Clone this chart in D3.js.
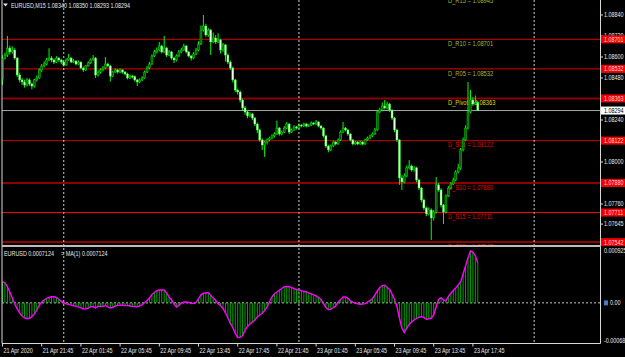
<!DOCTYPE html>
<html>
<head>
<meta charset="utf-8">
<script src="https://cdn.jsdelivr.net/npm/d3@7"></script>
<style>
    body { margin: 0; background: #000; }
    svg { display: block; }
    text { font-family: "Liberation Sans", Arial, sans-serif; font-size: 6.6px; }
</style>
</head>
<body>
<svg id="drawing_region"></svg>
<script>
// EURUSD M15, prices written as points (0.00001) above 1.07000
const BASE = 1.07;
const firstOpen = 1470;
const closes = [
    1594,1611,1651,1629,1640,1594,1497,1469,1457,1440,
    1469,1446,1434,1469,1480,1526,1549,1560,1583,1594,
    1583,1571,1594,1583,1571,1554,1583,1594,1571,1577,
    1560,1571,1537,1526,1549,1566,1583,1594,1497,1514,
    1526,1537,1560,1549,1491,1514,1526,1514,1526,1514,
    1503,1480,1491,1488,1469,1457,1469,1480,1514,1537,
    1560,1606,1629,1640,1663,1629,1651,1611,1629,1594,
    1583,1606,1629,1640,1663,1629,1606,1594,1617,1640,
    1674,1754,1777,1726,1754,1686,1709,1686,1697,1640,
    1669,1611,1571,1537,1469,1411,1400,1354,1309,1286,
    1263,1274,1251,1217,1183,1126,1097,1114,1126,1137,
    1149,1160,1194,1160,1171,1194,1217,1171,1183,1200,
    1194,1211,1206,1217,1206,1211,1223,1217,1229,1206,
    1194,1149,1091,1069,1091,1114,1103,1126,1171,1194,
    1183,1160,1126,1103,1114,1103,1114,1103,1126,1137,
    1149,1160,1183,1286,1297,1320,1309,1331,1297,1251,
    1183,1126,909,886,920,966,977,954,966,897,
    851,783,737,703,726,680,714,869,840,754,
    714,806,851,874,897,943,966,1069,1126,1194,
    1286,1354,1331,1340,1294
];
const highs = [
    1610,1625,1720,1665,1660,1650,1600,1510,1480,1470,
    1480,1478,1455,1475,1495,1535,1560,1575,1595,1650,
    1605,1592,1605,1600,1590,1580,1592,1617,1600,1588,
    1582,1580,1575,1545,1555,1575,1592,1611,1600,1525,
    1535,1548,1600,1568,1555,1522,1535,1532,1534,1530,
    1520,1510,1500,1498,1494,1475,1478,1490,1522,1548,
    1572,1615,1640,1655,1686,1670,1720,1658,1640,1635,
    1600,1615,1640,1652,1675,1668,1635,1612,1628,1652,
    1690,1780,1840,1790,1765,1760,1740,1725,1735,1705,
    1680,1675,1620,1580,1545,1475,1420,1408,1362,1320,
    1295,1285,1280,1258,1225,1190,1135,1122,1135,1145,
    1158,1170,1237,1200,1180,1205,1228,1222,1192,1210,
    1206,1220,1216,1225,1222,1218,1232,1228,1240,1232,
    1210,1198,1155,1098,1100,1122,1120,1135,1180,1229,
    1200,1188,1165,1130,1122,1120,1122,1118,1132,1145,
    1156,1168,1195,1295,1310,1340,1354,1345,1338,1300,
    1258,1190,1130,925,935,980,1011,985,978,972,
    905,858,790,745,740,735,725,914,880,850,
    760,815,862,885,910,954,990,1080,1140,1210,
    1457,1411,1370,1380,1350
];
const lows = [
    1440,1585,1600,1615,1620,1585,1485,1455,1440,1425,
    1432,1435,1415,1425,1460,1475,1515,1540,1552,1575,
    1570,1560,1565,1572,1560,1545,1550,1578,1565,1565,
    1552,1555,1530,1515,1520,1545,1560,1578,1480,1488,
    1505,1518,1530,1540,1460,1485,1508,1505,1508,1505,
    1495,1472,1475,1478,1460,1434,1450,1462,1475,1508,
    1530,1555,1600,1620,1632,1620,1622,1600,1605,1585,
    1565,1575,1600,1620,1635,1620,1598,1580,1588,1610,
    1632,1668,1745,1715,1715,1611,1680,1675,1680,1620,
    1630,1575,1560,1525,1455,1400,1385,1340,1295,1270,
    1250,1255,1240,1205,1165,1115,1069,1029,1100,1118,
    1130,1140,1155,1150,1152,1165,1188,1160,1165,1178,
    1186,1190,1198,1200,1198,1200,1205,1210,1212,1198,
    1185,1140,1080,1055,1062,1085,1095,1098,1120,1165,
    1175,1150,1118,1095,1098,1096,1098,1095,1098,1120,
    1130,1142,1155,1178,1278,1290,1300,1300,1285,1240,
    1170,1115,869,840,878,912,958,945,945,885,
    840,770,725,690,695,554,665,705,830,740,
    646,705,800,845,868,890,935,955,1060,1120,
    1185,1278,1320,1325,1293
];
// indicator values, in units of 0.00001
const osc = [
    37.8,36.0,28.4,19.4,8.7,-2.0,-10.9,-18.0,-23.4,-26.9,
    -28.2,-27.5,-24.6,-19.8,-12.7,-4.6,1.6,5.2,8.2,9.6,
    10.9,11.1,9.6,6.1,3.0,0.2,-1.6,-2.7,-4.1,-5.2,
    -5.9,-7.0,-9.1,-10.9,-10.5,-9.5,-6.4,-7.0,-9.1,-5.9,
    -6.4,-6.1,-4.6,-7.3,-9.1,-8.2,-5.5,-4.5,-4.3,-4.3,
    -4.6,-5.0,-5.5,-6.1,-6.4,-6.8,-5.5,-3.4,0.7,4.3,
    8.7,15.0,18.5,21.6,23.0,23.0,22.6,17.7,10.5,5.7,
    -2.0,-7.3,-4.6,-0.2,1.2,1.6,0.7,-1.1,-0.7,0.7,
    7.0,14.4,17.1,17.7,18.2,13.2,8.7,4.6,-1.4,-5.0,
    -10.0,-17.7,-26.9,-36.7,-43.9,-54.6,-61.7,-61.3,-58.1,-48.7,
    -42.1,-37.6,-34.4,-30.5,-25.1,-21.6,-18.5,-13.6,-7.0,2.5,
    10.5,16.2,19.4,22.5,25.7,28.7,29.2,28.7,27.5,25.3,
    23.9,23.0,21.6,20.5,19.4,17.7,15.9,14.1,12.3,10.0,
    6.1,-1.1,-8.2,-12.1,-11.2,-8.7,-5.5,1.6,6.1,10.5,
    10.5,8.7,3.4,1.2,-0.2,-1.6,-2.5,-2.0,-1.4,1.6,
    4.6,7.0,14.1,21.2,27.5,30.5,31.4,27.5,23.9,15.9,
    6.1,-6.8,-26.9,-44.8,-52.8,-44.8,-38.5,-34.1,-30.5,-27.8,
    -26.0,-24.6,-26.0,-29.2,-28.4,-27.5,-21.6,-7.3,6.1,9.3,
    5.2,3.7,11.4,16.8,22.1,26.6,31.9,37.3,51.5,65.8,
    80.1,92.5,90.5,84.0,71.24
];

const startTime = new Date(2020, 3, 21, 17, 45);
const timeLabels = ["21 Apr 2020", "21 Apr 21:45", "22 Apr 01:45", "22 Apr 05:45", "22 Apr 09:45",
    "22 Apr 13:45", "22 Apr 17:45", "22 Apr 21:45", "23 Apr 01:45", "23 Apr 05:45",
    "23 Apr 09:45", "23 Apr 13:45", "23 Apr 17:45"];
const daySeparators = [new Date(2020, 3, 22), new Date(2020, 3, 23), new Date(2020, 3, 24)];
const priceTicks = [1.08840, 1.08720, 1.08600, 1.08480, 1.08360, 1.08240, 1.08120, 1.08000, 1.07880, 1.07760, 1.07645];
const levelNames = ["D_R15", "D_R10", "D_R05", "D_Pivot", "D_S05", "D_S10", "D_S15", "D_S20"];
const levelValues = [1.08945, 1.08701, 1.08532, 1.08363, 1.08122, 1.07880, 1.07711, 1.07542];
const currentPrice = 1.08294;
const oscTicks = [0.000925, 0, -0.00068];
const titleText = "EURUSD,M15  1.08340 1.08350 1.08293 1.08294";
const oscTitle = "EURUSD 0.0007124";
const maTitle = "MA(1) 0.0007124";

// squeeze text horizontally, the terminal font is narrower than Arial
function narrow(sel, k) {
    sel.each(function () {
        const w = this.getComputedTextLength();
        d3.select(this)
            .attr('textLength', w * (k || 0.82))
            .attr('lengthAdjust', 'spacingAndGlyphs');
    });
}

class MtChart {
    constructor(config) {
        this.config = config;
        this.init();
    }

    init() {
        let self = this;
        self.svg = d3.select(self.config.parent)
            .attr('width', self.config.width)
            .attr('height', self.config.height);

        self.svg.append('rect')
            .attr('width', self.config.width).attr('height', self.config.height)
            .attr('fill', '#000');

        self.x = d3.scaleLinear().domain([0, closes.length - 1]).range([2.5, 477.8]);
        self.y = d3.scaleLinear().domain([1.07645, 1.08840]).range([224.1, 15]);
        self.yOsc = d3.scaleLinear().domain([-0.00068, 0.000925]).range([341, 251]);

        self.svg.append('clipPath').attr('id', 'mainClip')
            .append('rect').attr('x', 2).attr('y', 0).attr('width', 598).attr('height', 245);
    }

    render() {
        let self = this;
        const c = self.config;
        const price = v => BASE + v / 1e5;
        const barOf = t => (t - startTime) / (15 * 60 * 1000);

        const main = self.svg.append('g').attr('clip-path', 'url(#mainClip)');

        // pivot levels
        const lineColor = { D_R15: '#d00000', D_R10: '#d40000', D_R05: '#e00000', D_Pivot: '#8c0000',
            D_S05: '#c80000', D_S10: '#8c0000', D_S15: '#ff0000', D_S20: '#8c0000' };
        const lineWidth = { D_Pivot: 2, D_S10: 2, D_S20: 2 };
        const textColor = name => name.startsWith('D_R') ? '#a4b832' : (name === 'D_Pivot' ? '#dede00' : '#e80000');

        main.selectAll('line.level')
            .data(levelNames)
            .enter()
            .append('line')
            .attr('x1', c.left).attr('x2', c.right)
            .attr('y1', (d, i) => self.y(levelValues[i]))
            .attr('y2', (d, i) => self.y(levelValues[i]))
            .attr('stroke', d => lineColor[d])
            .attr('stroke-width', d => lineWidth[d] || 1);

        main.append('line')
            .attr('x1', c.left).attr('x2', c.right)
            .attr('y1', self.y(currentPrice)).attr('y2', self.y(currentPrice))
            .attr('stroke', '#a8a8a8').attr('stroke-width', 1);

        main.selectAll('text.level')
            .data(levelNames)
            .enter()
            .append('text')
            .attr('x', 448)
            .attr('y', (d, i) => self.y(levelValues[i]) + 6.8)
            .attr('fill', d => textColor(d))
            .style('font-size', '7px')
            .text((d, i) => `${d} = ${levelValues[i].toFixed(5)}`);

        // day separators
        self.svg.selectAll('line.sep')
            .data(daySeparators)
            .enter()
            .append('line')
            .attr('x1', d => self.x(barOf(d))).attr('x2', d => self.x(barOf(d)))
            .attr('y1', 0).attr('y2', 343)
            .attr('stroke', '#d0d0d0')
            .attr('stroke-dasharray', '2,2');

        // candles
        const bars = closes.map((cl, i) => ({
            i: i,
            o: price(i ? closes[i - 1] : firstOpen),
            h: price(highs[i]),
            l: price(lows[i]),
            c: price(cl)
        }));

        main.selectAll('line.wick')
            .data(bars)
            .enter()
            .append('line')
            .attr('x1', d => self.x(d.i)).attr('x2', d => self.x(d.i))
            .attr('y1', d => self.y(d.h)).attr('y2', d => self.y(d.l))
            .attr('stroke', '#00ff00').attr('stroke-width', 1);

        main.selectAll('rect.body')
            .data(bars)
            .enter()
            .append('rect')
            .attr('x', d => self.x(d.i) - 1)
            .attr('width', 2)
            .attr('y', d => self.y(Math.max(d.o, d.c)))
            .attr('height', d => Math.max(1, Math.abs(self.y(d.o) - self.y(d.c))))
            .attr('fill', d => d.c >= d.o ? '#0b5a0b' : '#e4ffe4')
            .attr('stroke', '#00ff00')
            .attr('stroke-width', 0.4);

        // indicator: histogram + line
        const zeroY = self.yOsc(0);
        self.svg.append('line')
            .attr('x1', c.left).attr('x2', c.right)
            .attr('y1', zeroY).attr('y2', zeroY)
            .attr('stroke', '#c8c8c8').attr('stroke-dasharray', '2,2');

        self.svg.selectAll('line.hist')
            .data(osc)
            .enter()
            .append('line')
            .attr('x1', (d, i) => self.x(i)).attr('x2', (d, i) => self.x(i))
            .attr('y1', zeroY)
            .attr('y2', d => self.yOsc(d / 1e5))
            .attr('stroke', '#00a000').attr('stroke-width', 1);

        const line = d3.line()
            .x((d, i) => self.x(i))
            .y(d => self.yOsc(d / 1e5));

        self.svg.append('path')
            .datum(osc)
            .attr('d', line)
            .attr('fill', 'none')
            .attr('stroke', '#ff00ff')
            .attr('stroke-width', 1.4);

        // frame
        const frame = self.svg.append('g').attr('stroke', '#d8d8d8').attr('fill', 'none');
        frame.append('line').attr('x1', 2).attr('x2', 2).attr('y1', 0).attr('y2', 343.5);
        frame.append('line').attr('x1', 600.5).attr('x2', 600.5).attr('y1', 0).attr('y2', 343.5);
        frame.append('line').attr('x1', 2).attr('x2', 600.5).attr('y1', 343.5).attr('y2', 343.5);
        frame.append('line').attr('x1', 2).attr('x2', 600.5).attr('y1', 246).attr('y2', 246)
            .attr('stroke', '#bcbcbc').attr('stroke-width', 2);

        // titles
        self.svg.append('path').attr('d', 'M3,3.5 L8,3.5 L5.5,6.5 Z').attr('fill', '#e0e0e0');
        self.svg.append('text').attr('x', 11).attr('y', 8).attr('fill', '#e8e8e8').text(titleText);
        self.svg.append('text').attr('x', 4).attr('y', 256).attr('fill', '#e8e8e8').text(oscTitle);
        self.svg.append('text').attr('x', 61).attr('y', 256).attr('fill', '#e8e8e8').text('= ' + maTitle);

        // right price axis
        const axis = self.svg.append('g');
        axis.selectAll('line.ptick')
            .data(priceTicks)
            .enter()
            .append('line')
            .attr('x1', 600.5).attr('x2', 603)
            .attr('y1', d => self.y(d)).attr('y2', d => self.y(d))
            .attr('stroke', '#d8d8d8');
        axis.selectAll('text.ptick')
            .data(priceTicks)
            .enter()
            .append('text')
            .attr('x', 604).attr('y', d => self.y(d) + 2.3)
            .attr('fill', '#e8e8e8')
            .text(d => d.toFixed(5));

        const boxes = levelValues.slice(1).map(v => ({ v: v, fill: '#f00000', color: '#ffd8d8' }));
        boxes.push({ v: currentPrice, fill: '#ffffff', color: '#000000' });
        const box = axis.selectAll('g.box')
            .data(boxes)
            .enter()
            .append('g')
            .attr('transform', d => `translate(601, ${self.y(d.v)})`);
        box.append('rect')
            .attr('x', 0).attr('y', -4).attr('width', 24).attr('height', 8)
            .attr('fill', d => d.fill);
        box.append('text')
            .attr('x', 3).attr('y', 2.4)
            .attr('fill', d => d.color)
            .text(d => d.v.toFixed(5));

        // indicator axis
        axis.selectAll('text.otick')
            .data(oscTicks)
            .enter()
            .append('text')
            .attr('x', d => d === 0 ? 610 : 604)
            .attr('y', d => self.yOsc(d) + 2.3)
            .attr('fill', '#e8e8e8')
            .text(d => d === 0 ? '0.00' : (d > 0 ? d.toFixed(6) : d.toFixed(5)));
        axis.append('rect').attr('x', 604).attr('y', zeroY - 2.5).attr('width', 4).attr('height', 5)
            .attr('fill', '#4a78c8');

        // time axis
        const tg = self.svg.selectAll('g.time')
            .data(timeLabels)
            .enter()
            .append('g')
            .attr('transform', (d, i) => `translate(${self.x(i * 16)}, 343.5)`);
        tg.append('line').attr('x1', 0).attr('x2', 0).attr('y1', 0).attr('y2', 3).attr('stroke', '#d8d8d8');
        tg.append('text').attr('x', 1).attr('y', 9.5).attr('fill', '#e8e8e8').text(d => d);

        self.svg.selectAll('text').call(narrow);
    }
}

const chart = new MtChart({
    parent: '#drawing_region',
    width: 625,
    height: 357,
    left: 2,
    right: 600
});
chart.render();
</script>
</body>
</html>
